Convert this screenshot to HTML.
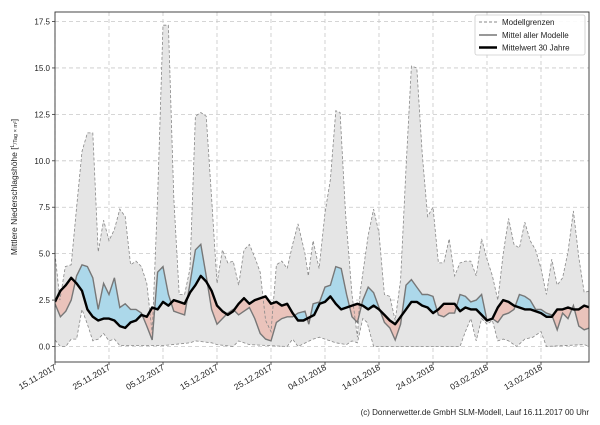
<!DOCTYPE html>
<html><head><meta charset="utf-8"><style>
body{margin:0;background:#fff;}
svg text{font-family:"Liberation Sans","DejaVu Sans",sans-serif;}
</style></head><body>
<svg id="s" width="600" height="420" xmlns="http://www.w3.org/2000/svg"></svg>
<script>
const X0=55,X1=589,Y0=12,Y1=362;
const px=d=>X0+d*5.4, py=v=>346.5-v*18.57;
const up=[[0,5],[0.9,2.5],[1.9,4.3],[3,4.4],[4,7.5],[5,10.5],[6,11.5],[7,11.5],[8,5.1],[9,6.8],[10,5.7],[11,6.3],[12,7.4],[13,7],[14,4.4],[15,4.6],[16,4.3],[17,3.4],[18,0.7],[19,8],[20,17.3],[21,17.3],[22,8],[23,2.8],[24,2.8],[25,4.2],[26,12.4],[27,12.6],[28,12.4],[29,8],[30,3.4],[31,5.2],[32,4.5],[33,4.6],[34,3.3],[35,5.2],[36,5.5],[37,4.8],[38,4],[39,1.4],[40,0.8],[41,4.4],[42,4.6],[43,4.2],[44,5.5],[45,6.6],[46.3,5],[46.9,3.8],[47.8,5.7],[48.9,4.2],[50,7.2],[51,9],[52,12.7],[52.8,12.6],[53.8,7.2],[55,2.8],[56,0.5],[56.5,2.9],[58,6],[59,7.4],[60,6.1],[61,2.8],[62,2.7],[63,1.4],[64,3.6],[65,9.6],[66,15.1],[67,15],[68,10.4],[69,7],[70,7.5],[71,4.5],[72,4.5],[73,5.8],[74,3.8],[75,4.5],[76,4.6],[77,4.6],[78,3.8],[79,5.8],[80,4.7],[81,3.8],[82,2.5],[83,5],[84,6.9],[85,5.5],[86,5.3],[87,6.7],[88,5.7],[89,5.2],[90,4.2],[91,2.8],[92,4.7],[93,3.3],[94,3.7],[95,5.1],[96,7.3],[97,4.8],[98,2.9],[99,3]];
const lo=[[0,0.35],[1,0],[2,0],[3,0.4],[4,0.4],[5,2],[6,1.2],[7,0.3],[8,0.4],[9,0.7],[10,0.3],[11,0.4],[12,0.05],[20,0.05],[25,0.2],[26,0.3],[29,0.2],[30,0.1],[33,0],[34,0.3],[36,0.1],[43,0],[44,0.4],[45,0],[47.8,0.4],[49,0.5],[50,0.4],[52,0.2],[54,0.1],[55,0.3],[56,0.2],[57,1.5],[57.8,1.3],[59,0],[75,0],[76,0.8],[77,1.5],[78,0.3],[79,1.5],[80,1.2],[81,1.4],[82,0.3],[83,0.4],[84,0.3],[85.5,0],[87,0.4],[88.5,0.5],[90,0.8],[91,0],[98,0.1],[99,0]];
const mn=[[0,2.3],[1,1.6],[2,1.9],[3,2.5],[4,3.8],[5,4.4],[6,4.3],[7,3.7],[8,2],[9,3.4],[10,2.8],[11,3.7],[12,2.1],[13,2.3],[14,2],[15,2],[16,1.8],[17,1.1],[18,0.35],[19,4],[20,4.3],[21,2.8],[22,1.9],[23,1.8],[24,1.7],[25,3.4],[26,5.2],[27,5.5],[28,3.8],[29,2],[30,1.2],[31,1.5],[32,1.8],[33,2],[34,1.7],[35,1.9],[36,2.1],[37,1.5],[38,0.7],[39,0.4],[40,0.3],[41,1.3],[42,1.5],[43,1.6],[44,1.6],[45,1.8],[46.3,1.9],[47,1.2],[47.8,2.3],[49,2.4],[50,3.2],[51,3.3],[52,4.3],[53,4.2],[54,2.8],[55,1.6],[56,1.3],[57,2.5],[58,3.2],[59,2.9],[60,2.1],[61,1.3],[62,1],[63,0.35],[64,1.2],[65,3.3],[66,3.6],[67,3.2],[68,2.8],[69,2.8],[70,2.7],[71,1.7],[72,1.6],[73,1.8],[74,1.8],[75,2.8],[76,2.7],[77,2.4],[78,2.5],[79,2.8],[80,1.4],[81,1.5],[82,1.3],[83,1.7],[84,1.8],[85,2],[86,2.8],[87,2.7],[88,2.5],[89,2],[90,2],[91,1.8],[92,1.7],[93,0.9],[94,1.8],[95,1.5],[96,2.2],[97,1.1],[98,0.9],[99,1]];
const cl=[[0,2.4],[1,3],[2,3.3],[3,3.7],[4,3.4],[5,3],[6,2],[7,1.6],[8,1.4],[9,1.5],[10,1.5],[11,1.4],[12,1.1],[13,1],[14,1.3],[15,1.4],[16,1.7],[17,1.6],[18,2.1],[19,2],[20,2.4],[21,2.2],[22,2.5],[23,2.4],[24,2.3],[25,2.9],[26,3.3],[27,3.8],[28,3.5],[29,3],[30,2.2],[31,1.9],[32,1.7],[33,1.9],[34,2.3],[35,2.6],[36,2.3],[37,2.5],[38,2.6],[39,2.7],[40,2.3],[41,2.4],[42,2.2],[43,2.3],[44,1.8],[45,1.4],[46,1.4],[48,1.7],[49,2.3],[50,2.4],[51,2.7],[52,2.3],[53,2],[54,2.1],[55,2.2],[56,2.3],[57,2.2],[58,2],[59,2.2],[60,2],[61,1.7],[62,1.4],[63,1.2],[64,1.6],[65,2],[66,2.4],[67,2.4],[68,2.2],[69,2.1],[70,1.8],[71,2],[72,2.3],[73,2.3],[74,2.3],[75,1.9],[76,2.1],[77,2],[78,2],[79,1.7],[80,1.4],[81,1.5],[82,2.1],[83,2.5],[84,2.4],[85,2.2],[86,2.1],[87,2],[88,2],[89,1.9],[90,1.8],[91,1.6],[92,1.6],[93,2],[94,2],[95,2.1],[96,2],[97,2],[98,2.2],[99,2.1]];
const P=a=>a.map(p=>px(p[0]).toFixed(1)+','+py(p[1]).toFixed(1)).join(' ');
const R=a=>a.slice().reverse();
let h='<defs><clipPath id="pa"><rect x="55" y="12" width="534" height="350"/></clipPath>';
h+=`<clipPath id="ab"><polygon points="${px(0)},0 ${P(cl)} ${px(99)},0"/></clipPath>`;
h+=`<clipPath id="be"><polygon points="${px(0)},420 ${P(cl)} ${px(99)},420"/></clipPath></defs>`;
// grid
for(let v=0;v<=17.5;v+=2.5){h+=`<line x1="55" x2="589" y1="${py(v)}" y2="${py(v)}" stroke="#c8c8c8" stroke-dasharray="4,3" stroke-width="0.8"/>`;
 h+=`<text x="50" y="${py(v)+3}" font-size="8" text-anchor="end" fill="#222">${v.toFixed(1)}</text><line x1="52" x2="55" y1="${py(v)}" y2="${py(v)}" stroke="#333" stroke-width="0.8"/>`;}
const dl=['15.11.2017','25.11.2017','05.12.2017','15.12.2017','25.12.2017','04.01.2018','14.01.2018','24.01.2018','03.02.2018','13.02.2018'];
dl.forEach((t,i)=>{const x=px(i*10);h+=`<line x1="${x}" x2="${x}" y1="12" y2="362" stroke="#c8c8c8" stroke-dasharray="4,3" stroke-width="0.8"/><line x1="${x}" x2="${x}" y1="362" y2="365" stroke="#333" stroke-width="0.8"/>`;
 h+=`<text transform="translate(${x+2},369) rotate(-30)" font-size="8.5" text-anchor="end" fill="#222">${t}</text>`;});
h+='<g clip-path="url(#pa)">';
h+=`<polygon points="${P(up)} ${P(R(lo))}" fill="#e5e5e5"/>`;
const band=`${P(mn)} ${P(R(cl))}`;
h+=`<polygon points="${band}" fill="#acd8ea" clip-path="url(#ab)"/>`;
h+=`<polygon points="${band}" fill="#eac3bb" clip-path="url(#be)"/>`;
h+=`<polyline points="${P(up)}" fill="none" stroke="#888" stroke-width="0.8" stroke-dasharray="3,2"/>`;
h+=`<polyline points="${P(lo)}" fill="none" stroke="#888" stroke-width="0.8" stroke-dasharray="3,2"/>`;
h+=`<polyline points="${P(mn)}" fill="none" stroke="#777" stroke-width="1.4"/>`;
h+=`<polyline points="${P(cl)}" fill="none" stroke="#000" stroke-width="2.4" stroke-linejoin="round"/>`;
h+='</g><rect x="55" y="12" width="534" height="350" fill="none" stroke="#333" stroke-width="0.9"/>';
h+=`<text transform="translate(17,187) rotate(-90)" font-size="8.5" text-anchor="middle" fill="#222">Mittlere Niederschlagshöhe [<tspan font-size="5.5" dy="-3">L</tspan><tspan font-size="5.5" dy="3">/Tag × m²</tspan>]</text>`;
h+=`<rect x="475" y="15" width="110" height="40" fill="#fff" fill-opacity="0.9" stroke="#ccc" stroke-width="0.8" rx="2"/>`;
h+=`<line x1="479" x2="497" y1="22" y2="22" stroke="#888" stroke-dasharray="3,2"/><text x="502" y="25" font-size="8" fill="#222">Modellgrenzen</text>`;
h+=`<line x1="479" x2="497" y1="35" y2="35" stroke="#777" stroke-width="1.4"/><text x="502" y="38" font-size="8" fill="#222">Mittel aller Modelle</text>`;
h+=`<line x1="479" x2="497" y1="47.5" y2="47.5" stroke="#000" stroke-width="2.4"/><text x="502" y="50.5" font-size="8" fill="#222">Mittelwert 30 Jahre</text>`;
h+=`<text x="589" y="415" font-size="8" text-anchor="end" fill="#222">(c) Donnerwetter.de GmbH SLM-Modell, Lauf 16.11.2017 00 Uhr</text>`;
document.getElementById('s').innerHTML=h;
</script>
</body></html>
